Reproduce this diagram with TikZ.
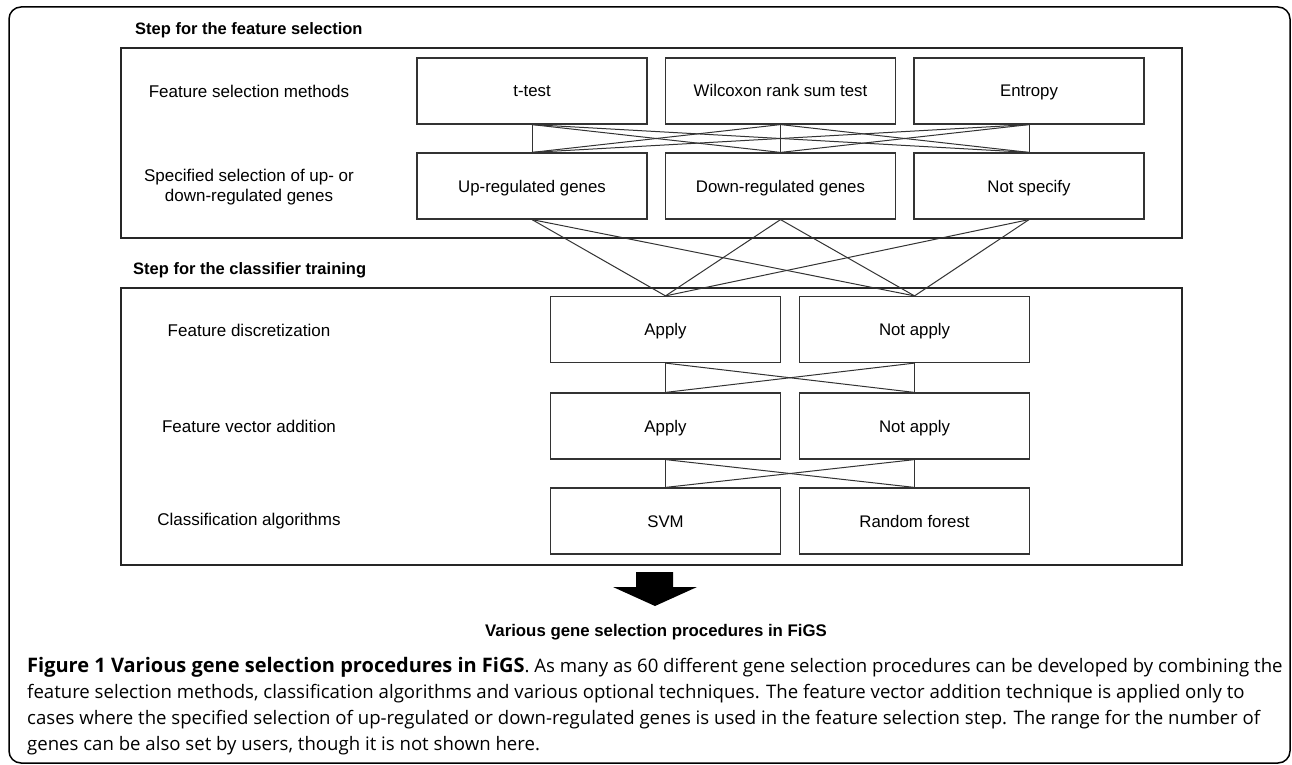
\documentclass[tikz,border=0pt]{standalone}
\usepackage{fontspec}
\setmainfont{Liberation Sans}
\newfontfamily\capfont{Open Sans}
\begin{document}
\begin{tikzpicture}[x=1pt,y=-1pt,
  box/.style={draw=black!80, line width=1.2pt, minimum width=230pt, minimum height=66pt, inner sep=0pt, text height=15pt, text depth=3pt, font=\fontsize{16.8}{19}\selectfont},
  frame/.style={draw=black!85, line width=1.3pt},
  lbl/.style={font=\fontsize{17}{20}\selectfont, align=center, inner sep=0pt},
  hdr/.style={font=\bfseries\fontsize{16.5}{18}\selectfont, anchor=west, inner sep=0pt},
  link/.style={draw=black!80, line width=1pt}]
\useasboundingbox (0,0) rectangle (1292,765);
\draw[line width=1.5pt, rounded corners=12pt] (9,7) rectangle (1290,763);

% section frames
\draw[frame] (121,48) rectangle (1182,238);
\draw[frame] (121,288) rectangle (1182,565);

% headers
\node[hdr] (h1) at (135,30) {Step for the feature selection};
\node[hdr] (h2) at (133,270) {Step for the classifier training};

% row labels
\node[lbl] (l1) at (249,91) {Feature selection methods};
\node[lbl] (l2) at (249,187) {Specified selection of up- or\\down-regulated genes};
\node[lbl] (l3) at (249,330) {Feature discretization};
\node[lbl] (l4) at (249,426) {Feature vector addition};
\node[lbl] (l5) at (249,521) {Classification algorithms};

% boxes
\node[box] (tt)   at (532,91)    {t-test};
\node[box] (wil)  at (780.5,91)  {Wilcoxon rank sum test};
\node[box] (ent)  at (1029,91)   {Entropy};
\node[box] (up)   at (532,186)   {Up-regulated genes};
\node[box] (down) at (780.5,186) {Down-regulated genes};
\node[box] (ns)   at (1029,186)  {Not specify};
\node[box] (da)   at (665.5,329.5) {Apply};
\node[box] (dn)   at (914.5,329.5) {Not apply};
\node[box] (va)   at (665.5,426) {Apply};
\node[box] (vn)   at (914.5,426) {Not apply};
\node[box] (svm)  at (665.5,521) {SVM};
\node[box] (rf)   at (914.5,521) {Random forest};

% links
\foreach \a in {tt,wil,ent}{\foreach \b in {up,down,ns}{\draw[link] (\a.south) -- (\b.north);}}
\foreach \a in {up,down,ns}{\foreach \b in {da,dn}{\draw[link] (\a.south) -- (\b.north);}}
\foreach \a in {da,dn}{\foreach \b in {va,vn}{\draw[link] (\a.south) -- (\b.north);}}
\foreach \a in {va,vn}{\foreach \b in {svm,rf}{\draw[link] (\a.south) -- (\b.north);}}

% block arrow
\fill (636,572) -- (673,572) -- (673,587) -- (697,587) -- (655,606) -- (613,587) -- (636,587) -- cycle;

\node[font=\bfseries\fontsize{16.8}{18}\selectfont, inner sep=0pt] (res) at (656,632) {Various gene selection procedures in FiGS};

% caption
\node[anchor=base west, inner sep=0pt, align=left, font=\capfont\fontsize{18.6}{26}\selectfont] (cap) at (27,750)
{{\fontsize{20}{26}\selectfont\bfseries Figure 1 Various gene selection procedures in FiGS}. As many as 60 different gene selection procedures can be developed by combining the\\
feature selection methods, classification algorithms and various optional techniques. The feature vector addition technique is applied only to\\
cases where the specified selection of up-regulated or down-regulated genes is used in the feature selection step. The range for the number of\\
genes can be also set by users, though it is not shown here.};
\end{tikzpicture}
\end{document}
